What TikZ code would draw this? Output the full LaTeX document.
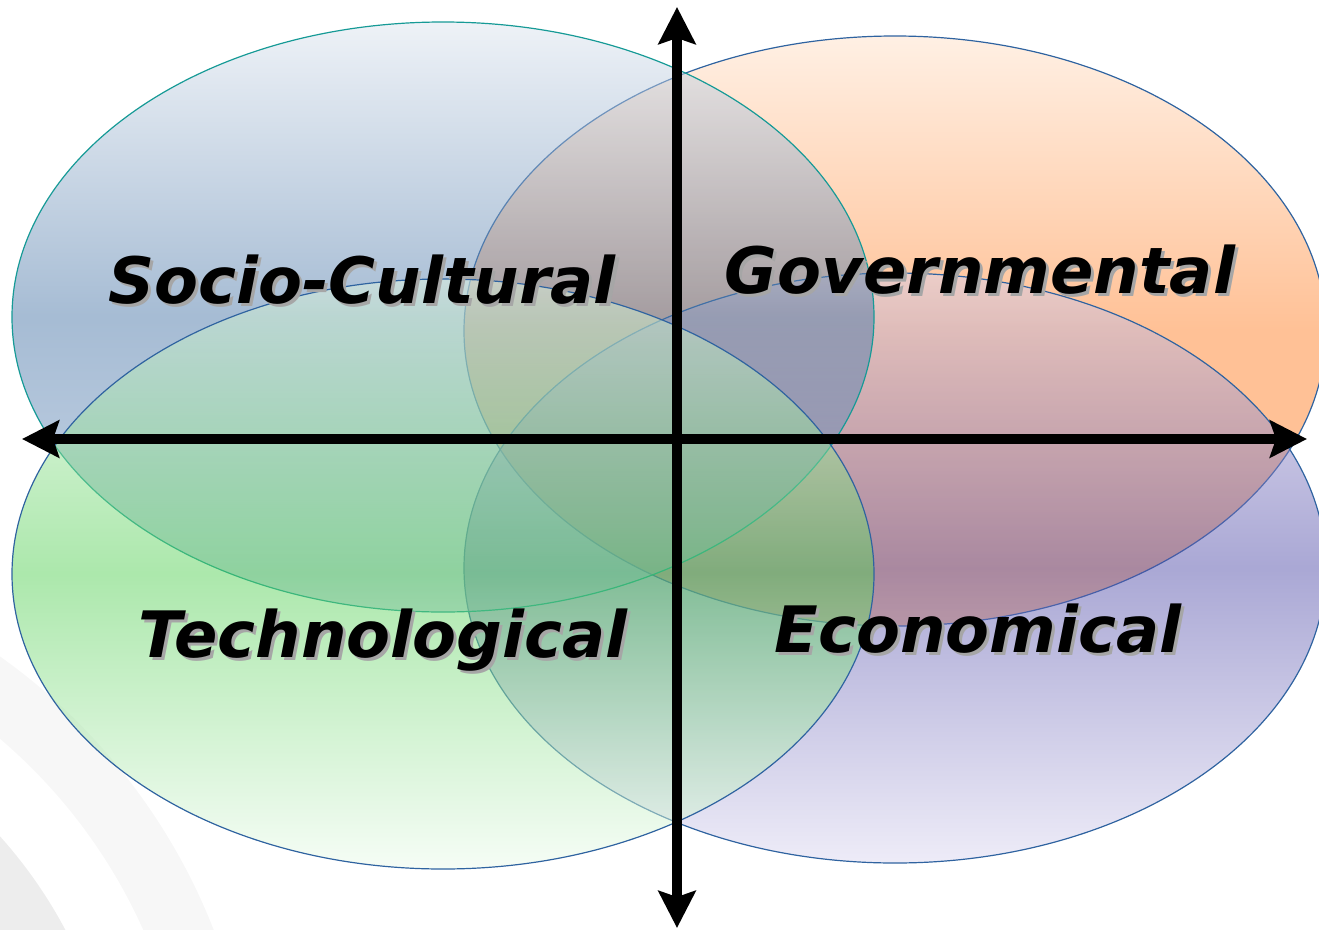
\documentclass[tikz,border=0pt]{standalone}
\usepackage{fontspec}
\setmainfont{DejaVu Sans}
\usetikzlibrary{shapes.geometric,arrows.meta}
\definecolor{scTop}{RGB}{221,229,239}
\definecolor{scMid}{RGB}{77,121,169}
\definecolor{scBot}{RGB}{150,175,210}
\definecolor{gvTop}{RGB}{255,225,201}
\definecolor{gvMid}{RGB}{255,131,45}
\definecolor{tcTop}{RGB}{225,245,225}
\definecolor{tcMid}{RGB}{89,209,89}
\definecolor{tcBot}{RGB}{237,251,237}
\definecolor{ecTop}{RGB}{217,209,235}
\definecolor{ecMid}{RGB}{85,81,171}
\definecolor{ecBot}{RGB}{221,217,241}
\definecolor{tealline}{RGB}{22,154,150}
\definecolor{blueline}{RGB}{47,99,160}
\newcommand\shtext[1]{\rlap{\kern3pt\raisebox{-3pt}{\textcolor{black!35}{#1}}}#1}
\begin{document}
\begin{tikzpicture}[x=1pt,y=-1pt,
  blob/.style={ellipse, inner sep=0pt, minimum width=862pt, minimum height=590pt, fill opacity=0.5, line width=1.2pt},
  axisline/.style={line width=10pt, {Stealth[length=37pt,width=37pt,inset=6pt]}-{Stealth[length=37pt,width=37pt,inset=6pt]}},
  lbl/.style={font=\fontsize{64}{70}\selectfont\bfseries\itshape, anchor=base, inner sep=0pt}]
\useasboundingbox (0,0) rectangle (1319,929);
% faint background arcs
\begin{scope}
\clip (0,0) rectangle (1319,929);
\fill[black!3, even odd rule] (-350,1150) circle[radius=605] (-350,1150) circle[radius=540];
\fill[black!7] (-350,1150) circle[radius=470];
\end{scope}
% ellipses
\node[blob, draw=blueline, top color=gvTop, bottom color=gvMid, middle color=gvMid] (gv) at (895,331) {};
\node[blob, draw=blueline, top color=ecTop, bottom color=ecBot, middle color=ecMid] (ec) at (895,568) {};
\node[blob, draw=tealline, top color=scTop, bottom color=scBot, middle color=scMid] (sc) at (443,317) {};
\node[blob, draw=blueline, top color=tcTop, bottom color=tcBot, middle color=tcMid] (tc) at (443,574) {};
% axes
\coordinate (top) at (677,7);
\coordinate (bot) at (677,928);
\coordinate (lft) at (22,439);
\coordinate (rgt) at (1307,439);
\draw[axisline] (lft) -- (rgt);
\draw[axisline] (bot) -- (top);
% labels
\node[lbl] (sct) at (362,303) {\shtext{Socio-Cultural}};
\node[lbl] (gvt) at (980,293) {\shtext{Governmental}};
\node[lbl] (tct) at (383,657) {\shtext{Technological}};
\node[lbl] (ect) at (978,652) {\shtext{Economical}};
\end{tikzpicture}
\end{document}
